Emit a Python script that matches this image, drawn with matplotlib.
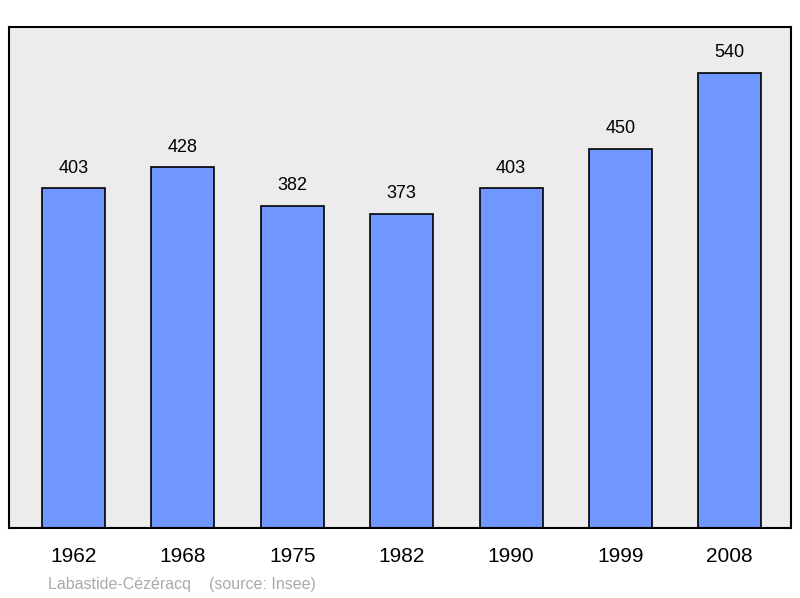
import matplotlib
matplotlib.use("Agg")
import matplotlib.pyplot as plt

years = ["1962", "1968", "1975", "1982", "1990", "1999", "2008"]
population = [403, 428, 382, 373, 403, 450, 540]

plt.rcParams['font.family'] = ['Liberation Sans', 'DejaVu Sans']
fig = plt.figure(figsize=(8, 5.98), dpi=100)
ax = fig.add_axes([9/800, 1-528/598, 782/800, 501/598])
ax.set_facecolor('#ececec')
x = list(range(len(years)))
ax.bar(x, population, width=0.576, color='#7096ff', edgecolor='black', linewidth=1.2)
for xi, v in zip(x, population):
    ax.text(xi, v + 14, str(v), ha='center', va='bottom', fontsize=13)
ax.set_xlim(-0.59, 6.56)
ax.set_ylim(0, 594.6)
ax.set_yticks([])
ax.set_xticks(x)
ax.set_xticklabels(years, fontsize=15)
ax.tick_params(axis='x', length=0, pad=14)
for s in ax.spines.values():
    s.set_linewidth(1.5)
fig.text(48/800, 1-584/598, "Labastide-Cézéracq    (source: Insee)", fontsize=11.5,
         color='#aaaaaa', va='center', ha='left')
fig.savefig("out.png", dpi=100)
